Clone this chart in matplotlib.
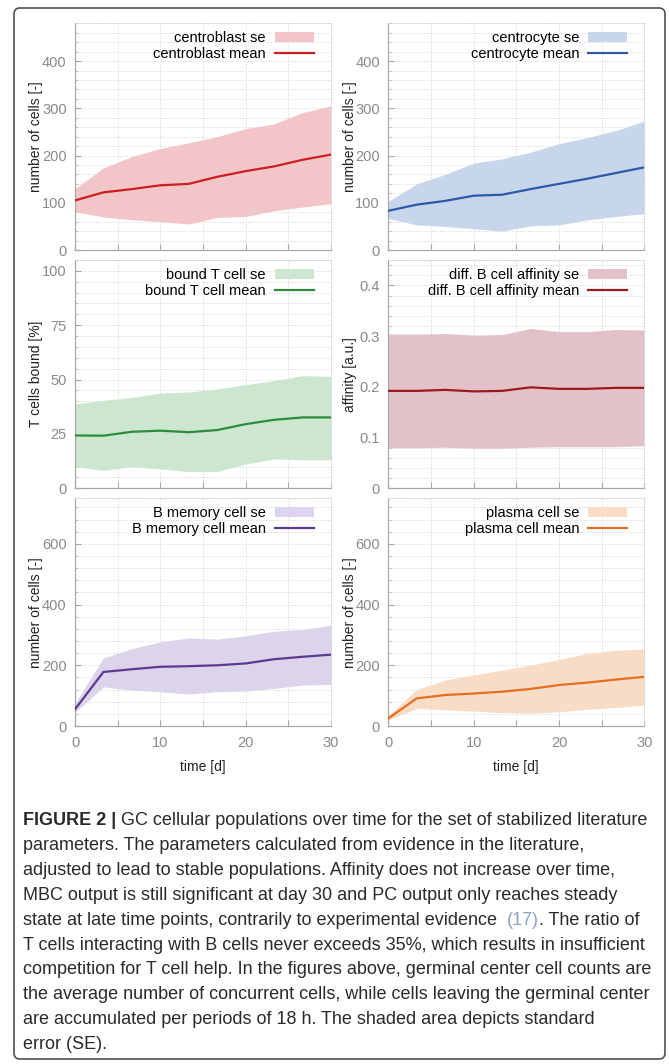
import matplotlib
matplotlib.use('Agg')
import matplotlib.pyplot as plt
from matplotlib.ticker import AutoMinorLocator
from matplotlib.patches import FancyBboxPatch

plt.rcParams['font.family'] = ['Liberation Sans', 'DejaVu Sans']

# time points [d]
time_d = [0, 3.33, 6.67, 10, 13.33, 16.67, 20, 23.33, 26.67, 30]

# centroblasts
cb_mean = [105, 122, 129, 137, 140, 155, 167, 177, 191, 202]
cb_hi = [130, 174, 198, 215, 227, 240, 257, 267, 291, 305]
cb_lo = [81, 70, 64, 60, 55, 69, 71, 83, 91, 98]

# centrocytes
cc_mean = [83, 96, 104, 115, 117, 129, 140, 151, 163, 175]
cc_hi = [103, 140, 160, 184, 193, 207, 225, 238, 253, 273]
cc_lo = [67, 53, 50, 45, 40, 51, 53, 64, 71, 77]

# bound T cells [%]
tc_mean = [24.3, 24.2, 26.0, 26.5, 25.8, 26.8, 29.5, 31.5, 32.6, 32.6]
tc_hi = [38.8, 40.5, 41.8, 43.8, 44.3, 45.7, 47.7, 49.5, 51.8, 51.5]
tc_lo = [10.0, 8.2, 10.0, 8.9, 7.7, 7.7, 11.2, 13.5, 13.1, 13.1]

# differentiated B cell affinity
af_mean = [0.192, 0.192, 0.194, 0.191, 0.192, 0.199, 0.196, 0.196, 0.198, 0.198]
af_hi = [0.304, 0.304, 0.305, 0.302, 0.303, 0.315, 0.309, 0.309, 0.313, 0.312]
af_lo = [0.080, 0.080, 0.081, 0.079, 0.079, 0.081, 0.082, 0.082, 0.082, 0.084]

# memory B cells
mb_mean = [55, 178, 187, 195, 197, 200, 206, 220, 228, 235]
mb_hi = [75, 224, 255, 277, 290, 286, 297, 312, 318, 332]
mb_lo = [45, 129, 118, 113, 105, 113, 115, 124, 135, 137]

# plasma cells
pc_mean = [25, 91, 102, 107, 113, 122, 135, 143, 153, 162]
pc_hi = [36, 120, 151, 168, 184, 200, 219, 239, 250, 253]
pc_lo = [20, 58, 53, 49, 44, 42, 47, 55, 61, 69]

panels = [
    ('centroblast', cb_mean, cb_lo, cb_hi, '#cc1f1f', '#f2c6c8',
     'number of cells [-]', 480, [0, 100, 200, 300, 400], ['0', '100', '200', '300', '400']),
    ('centrocyte', cc_mean, cc_lo, cc_hi, '#2b5aa8', '#c8d6ec',
     'number of cells [-]', 480, [0, 100, 200, 300, 400], ['0', '100', '200', '300', '400']),
    ('bound T cell', tc_mean, tc_lo, tc_hi, '#2e8b3e', '#cce6d0',
     'T cells bound [%]', 105, [0, 25, 50, 75, 100], ['0', '25', '50', '75', '100']),
    ('diff. B cell affinity', af_mean, af_lo, af_hi, '#9a1a22', '#e2c2c8',
     'affinity [a.u.]', 0.45, [0, 0.1, 0.2, 0.3, 0.4], ['0', '0.1', '0.2', '0.3', '0.4']),
    ('B memory cell', mb_mean, mb_lo, mb_hi, '#5b3a93', '#dcd4ea',
     'number of cells [-]', 750, [0, 200, 400, 600], ['0', '200', '400', '600']),
    ('plasma cell', pc_mean, pc_lo, pc_hi, '#e3701e', '#f8dcc6',
     'number of cells [-]', 750, [0, 200, 400, 600], ['0', '200', '400', '600']),
]

W, H = 669, 1064
fig = plt.figure(figsize=(W / 100, H / 100), dpi=100)

# background axes in pixel coordinates for frame and caption
bg = fig.add_axes([0, 0, 1, 1], zorder=-1)
bg.set_xlim(0, W)
bg.set_ylim(H, 0)
bg.axis('off')
bg.add_patch(FancyBboxPatch((14, 8), 651, 1051, boxstyle='round,pad=0,rounding_size=6',
                            fc='white', ec='#505050', lw=1.2))

col_x = [75, 388.3]
row_y = [(23.3, 250), (260, 488.3), (498.3, 726)]
axw = 256

grid_c = '#d4d4d4'
tick_c = '#8a8a8a'

for i, (name, mean, lo, hi, lc, fc, ylab, ymax, yt, ytl) in enumerate(panels):
    r, c = divmod(i, 2)
    top, bot = row_y[r]
    ax = fig.add_axes([col_x[c] / W, 1 - bot / H, axw / W, (bot - top) / H])
    se = ax.fill_between(time_d, lo, hi, color=fc, lw=0, label=name + ' se', zorder=2)
    ln, = ax.plot(time_d, mean, color=lc, lw=1.6, label=name + ' mean', zorder=3)
    ax.set_xlim(0, 30)
    ax.set_ylim(0, ymax)
    ax.set_yticks(yt, ytl)
    ax.yaxis.set_minor_locator(AutoMinorLocator(5))
    if r == 2:
        ax.set_xticks(range(0, 31, 5), ['0', '', '10', '', '20', '', '30'])
        ax.set_xlabel('time [d]', fontsize=10, color='#222222')
        ax.xaxis.set_label_coords(0.5, -0.148)
    else:
        ax.set_xticks(range(0, 31, 5), [''] * 7)
    ax.tick_params(axis='both', which='major', direction='in', length=4, width=0.8,
                   color='#a8a8a8', labelcolor=tick_c, labelsize=10.5)
    ax.tick_params(axis='x', pad=7)
    ax.tick_params(axis='y', pad=6)
    ax.tick_params(axis='y', which='minor', direction='in', length=2, width=0.6,
                   color='#c0c0c0')
    ax.grid(True, which='both', axis='y', ls=':', lw=0.7, color=grid_c, zorder=0)
    ax.grid(True, which='major', axis='x', ls=':', lw=0.7, color=grid_c, zorder=0)
    ax.set_axisbelow(True)
    for s in ('left', 'bottom'):
        ax.spines[s].set_color('#a8a8a8')
        ax.spines[s].set_linewidth(0.9)
    for s in ('top', 'right'):
        ax.spines[s].set_color(grid_c)
        ax.spines[s].set_linestyle(':')
        ax.spines[s].set_linewidth(0.7)
    ax.set_ylabel(ylab, fontsize=10, color='#222222')
    ax.yaxis.set_label_coords(-0.124, 0.5)
    ax.legend([se, ln], [name + ' se', name + ' mean'], loc='upper right',
              bbox_to_anchor=(1 - 17 / axw, 1 - 8 / (bot - top)), frameon=False,
              markerfirst=False, fontsize=10.5, handlelength=2.7, handleheight=0.65,
              handletextpad=0.6, labelspacing=0.12, borderpad=0, borderaxespad=0)

# caption
cap_family, cap_size = 'Liberation Sans', 13.0
cap_color = '#2a2a2a'
ref_color = '#8ea2c2'

cap_lines = [
    'parameters. The parameters calculated from evidence in the literature,',
    'adjusted to lead to stable populations. Affinity does not increase over time,',
    'MBC output is still significant at day 30 and PC output only reaches steady',
    None,
    'T cells interacting with B cells never exceeds 35%, which results in insufficient',
    'competition for T cell help. In the figures above, germinal center cell counts are',
    'the average number of concurrent cells, while cells leaving the germinal center',
    'are accumulated per periods of 18 h. The shaded area depicts standard',
    'error (SE).',
]
cap_x = 23
cap_y0 = 829
cap_dy = 24.9
kw = dict(family=cap_family, fontsize=cap_size, color=cap_color, va='bottom')

t0 = bg.text(cap_x, cap_y0, 'FIGURE 2 |', fontweight='bold', **kw)
bg.annotate(' GC cellular populations over time for the set of stabilized literature',
            xy=(1, 0), xycoords=t0, **kw)
for k, line in enumerate(cap_lines):
    y = cap_y0 + (k + 1) * cap_dy
    if line is None:
        ta = bg.text(cap_x, y, 'state at late time points, contrarily to experimental evidence  ', **kw)
        tb = bg.annotate('(17)', xy=(1, 0), xycoords=ta,
                         **{**kw, 'color': ref_color})
        bg.annotate('. The ratio of', xy=(1, 0), xycoords=tb, **kw)
    else:
        bg.text(cap_x, y, line, **kw)

fig.savefig('out.png', dpi=100)
